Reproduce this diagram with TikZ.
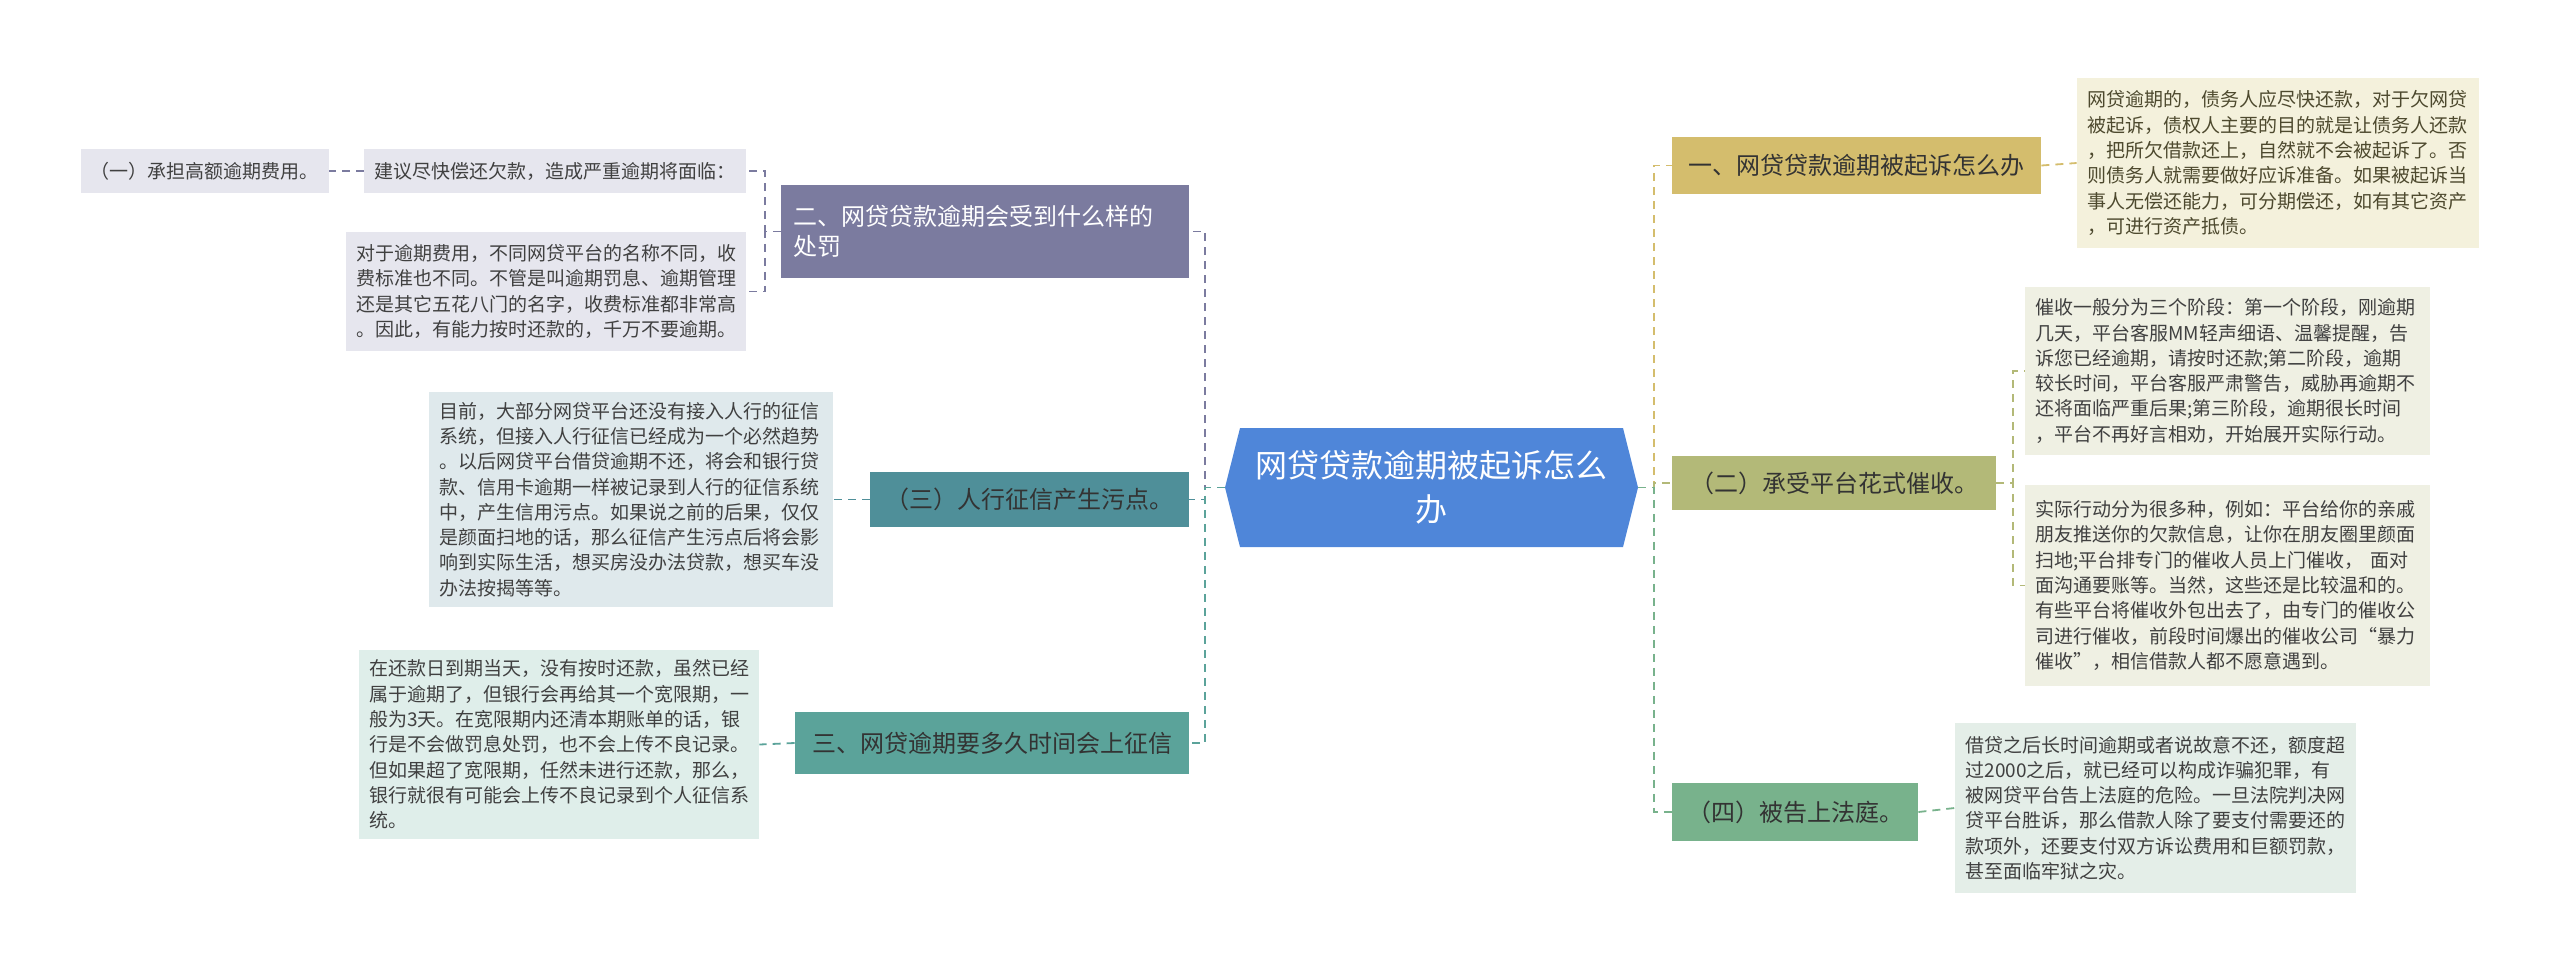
\documentclass[tikz,border=0pt]{standalone}
\usepackage{fontspec}
\setmainfont{Noto Sans CJK SC}
\usetikzlibrary{positioning}
\definecolor{centerblue}{HTML}{4F86D9}
\definecolor{purplegray}{HTML}{7B7B9F}
\definecolor{tealA}{HTML}{4F8F99}
\definecolor{tealB}{HTML}{5BA39A}
\definecolor{goldA}{HTML}{D4BD6D}
\definecolor{oliveA}{HTML}{B3B978}
\definecolor{greenA}{HTML}{78B28C}
\definecolor{leafgray}{HTML}{E6E6EE}
\definecolor{leafteal}{HTML}{DFE9EC}
\definecolor{leafgreen}{HTML}{DFEEEA}
\definecolor{leafgold}{HTML}{F4F1DC}
\definecolor{leafolive}{HTML}{EFF0E3}
\definecolor{leafmint}{HTML}{E4EEE8}
\tikzset{
  leaf/.style={fill=#1, text=black!75, inner xsep=5pt, inner ysep=0pt,
    font=\fontsize{9.5}{12.65}\selectfont, align=left},
  branch/.style={fill=#1, text=black!80, inner xsep=6pt, inner ysep=0pt,
    font=\fontsize{12}{15}\selectfont, align=left},
  link/.style={draw=#1, line width=0.9pt, dash pattern=on 4pt off 3pt}
}
\begin{document}
\begin{tikzpicture}[x=0.5pt,y=-0.5pt]
    \useasboundingbox (0,0) rectangle (2560,976);
    % centre
    \fill [centerblue] (1225,487.5) -- (1240,428) -- (1623,428) -- (1638,487.5) -- (1623,547) -- (1240,547) -- cycle;
    \node (c) at (1431.5,487.5) [minimum width=206.5pt, minimum height=59.5pt, inner sep=0pt, text=white, align=center,
        font=\fontsize{16}{22}\selectfont] {网贷贷款逾期被起诉怎么\\办};
    % left branches
    \node (l1) at (985,231.5) [branch=purplegray, text=white, minimum width=204pt, minimum height=46.5pt, text width=192pt]
        {二、网贷贷款逾期会受到什么样的\\处罚};
    \node (l2) at (1029.5,499.5) [branch=tealA, minimum width=159.5pt, minimum height=27.5pt] {（三）人行征信产生污点。};
    \node (l3) at (992,743) [branch=tealB, minimum width=197pt, minimum height=31pt] {三、网贷逾期要多久时间会上征信};
    % left leaves
    \node (la) at (555,171) [leaf=leafgray, minimum width=191pt, minimum height=22pt] {建议尽快偿还欠款，造成严重逾期将面临：};
    \node (lb) at (204.5,171) [leaf=leafgray, minimum width=122.5pt, minimum height=22pt] {（一）承担高额逾期费用。};
    \node (lc) at (546,291.5) [leaf=leafgray, minimum width=200pt, minimum height=59.5pt, text width=190pt]
        {对于逾期费用，不同网贷平台的名称不同，收\\费标准也不同。不管是叫逾期罚息、逾期管理\\还是其它五花八门的名字，收费标准都非常高\\。因此，有能力按时还款的，千万不要逾期。};
    \node (ld) at (631,499.5) [leaf=leafteal, minimum width=202pt, minimum height=107.5pt, text width=192pt]
        {目前，大部分网贷平台还没有接入人行的征信\\系统，但接入人行征信已经成为一个必然趋势\\。以后网贷平台借贷逾期不还，将会和银行贷\\款、信用卡逾期一样被记录到人行的征信系统\\中，产生信用污点。如果说之前的后果，仅仅\\是颜面扫地的话，那么征信产生污点后将会影\\响到实际生活，想买房没办法贷款，想买车没\\办法按揭等等。};
    \node (le) at (559,744.5) [leaf=leafgreen, minimum width=200pt, minimum height=94.5pt, text width=190pt]
        {在还款日到期当天，没有按时还款，虽然已经\\属于逾期了，但银行会再给其一个宽限期，一\\般为3天。在宽限期内还清本期账单的话，银\\行是不会做罚息处罚，也不会上传不良记录。\\但如果超了宽限期，任然未进行还款，那么，\\银行就很有可能会上传不良记录到个人征信系\\统。};
    % right branches
    \node (r1) at (1856.5,165.5) [branch=goldA, minimum width=184.5pt, minimum height=28.5pt] {一、网贷贷款逾期被起诉怎么办};
    \node (r2) at (1834,483) [branch=oliveA, minimum width=162pt, minimum height=27pt] {（二）承受平台花式催收。};
    \node (r3) at (1795,812) [branch=greenA, minimum width=123pt, minimum height=29pt] {（四）被告上法庭。};
    % right leaves
    \node (ra) at (2278,163) [leaf=leafgold, text=black!60!olive, minimum width=201pt, minimum height=85pt, text width=191pt]
        {网贷逾期的，债务人应尽快还款，对于欠网贷\\被起诉，债权人主要的目的就是让债务人还款\\，把所欠借款还上，自然就不会被起诉了。否\\则债务人就需要做好应诉准备。如果被起诉当\\事人无偿还能力，可分期偿还，如有其它资产\\，可进行资产抵债。};
    \node (rb) at (2227.5,371) [leaf=leafolive, minimum width=202.5pt, minimum height=84pt, text width=192pt]
        {催收一般分为三个阶段：第一个阶段，刚逾期\\几天，平台客服MM轻声细语、温馨提醒，告\\诉您已经逾期，请按时还款;第二阶段，逾期\\较长时间，平台客服严肃警告，威胁再逾期不\\还将面临严重后果;第三阶段，逾期很长时间\\，平台不再好言相劝，开始展开实际行动。};
    \node (rc) at (2227.5,585.5) [leaf=leafolive, minimum width=202.5pt, minimum height=100.5pt, text width=192pt]
        {实际行动分为很多种，例如：平台给你的亲戚\\朋友推送你的欠款信息，让你在朋友圈里颜面\\扫地;平台排专门的催收人员上门催收， 面对\\面沟通要账等。当然，这些还是比较温和的。\\有些平台将催收外包出去了，由专门的催收公\\司进行催收，前段时间爆出的催收公司“暴力\\催收”，相信借款人都不愿意遇到。};
    \node (rd) at (2155.5,808) [leaf=leafmint, minimum width=200.5pt, minimum height=85pt, text width=190pt]
        {借贷之后长时间逾期或者说故意不还，额度超\\过2000之后，就已经可以构成诈骗犯罪，有\\被网贷平台告上法庭的危险。一旦法院判决网\\贷平台胜诉，那么借款人除了要支付需要还的\\款项外，还要支付双方诉讼费用和巨额罚款，\\甚至面临牢狱之灾。};
    % connectors
    \draw [link=purplegray] (c.west) -- (1205,487.5) |- (l1.east);
    \draw [link=tealA] (c.west) -- (1205,487.5) |- (l2.east);
    \draw [link=tealB] (c.west) -- (1205,487.5) |- (l3.east);
    \draw [link=purplegray] (l1.west) -- (765,231.5) |- (la.east);
    \draw [link=purplegray] (l1.west) -- (765,231.5) |- (lc.east);
    \draw [link=purplegray] (la.west) -- (lb.east);
    \draw [link=tealA] (l2.west) -- (ld.east);
    \draw [link=tealB] (l3.west) -- (le.east);
    \draw [link=goldA] (c.east) -- (1654,487.5) |- (r1.west);
    \draw [link=oliveA] (c.east) -- (1654,487.5) |- (r2.west);
    \draw [link=greenA] (c.east) -- (1654,487.5) |- (r3.west);
    \draw [link=goldA] (r1.east) -- (ra.west);
    \draw [link=oliveA] (r2.east) -- (2013,483) |- (rb.west);
    \draw [link=oliveA] (r2.east) -- (2013,483) |- (rc.west);
    \draw [link=greenA] (r3.east) -- (rd.west);
\end{tikzpicture}
\end{document}
